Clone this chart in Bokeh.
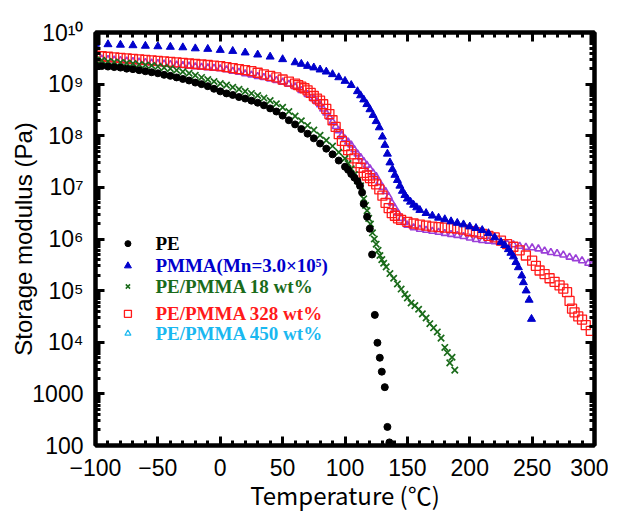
from bokeh.plotting import figure
from bokeh.models import (Range1d, FixedTicker, LinearAxis, LogAxis, CustomJSTickFormatter,
                          CustomLabelingPolicy)
from bokeh.embed import file_html
from bokeh.resources import INLINE
from bokeh.core.properties import value

# ---------------- data (temperature in deg C, log10 of storage modulus in Pa) ----------------
pe_T = [-100, -95, -90, -85, -80, -75, -70, -65, -60, -55,
        -50, -45, -40, -35, -30, -25, -20, -15, -10, -5,
        0, 5, 10, 15, 20, 25, 30, 35, 40, 45,
        50, 55, 60, 65, 70, 75, 80, 85, 90, 95,
        100, 102.5, 105, 107.5, 110, 112,
        113.7, 115, 117.7, 119.9, 121.7, 123.9, 126, 127.9, 129.5, 131.9, 134, 135.6]
pe_logE = [9.36, 9.35, 9.34, 9.33, 9.32, 9.30, 9.29, 9.27, 9.25, 9.23,
           9.21, 9.18, 9.16, 9.13, 9.10, 9.07, 9.03, 9.00, 8.96, 8.91,
           8.86, 8.82, 8.79, 8.75, 8.72, 8.68, 8.64, 8.59, 8.53, 8.47,
           8.39, 8.30, 8.22, 8.13, 8.04, 7.95, 7.85, 7.75, 7.64, 7.52,
           7.40, 7.34, 7.26, 7.19, 7.12, 7.03,
           6.90, 6.68, 6.43, 6.20, 5.70, 4.53, 3.99, 3.70, 3.43, 3.13, 2.36, 2.06]

pmma_T = [-100, -90, -80, -70, -60, -50, -40, -30, -20, -10, 0, 10, 20, 30, 40, 50, 60,
          65, 70, 75, 80, 85, 90, 95, 100, 105, 110,
          112.5, 115, 117.5, 120, 122.5, 125, 127.5,
          130, 132, 134, 136, 138, 140, 142, 144, 146, 148, 150,
          152.5, 155, 157.5, 160,
          165, 170, 175, 180, 185, 190, 195, 200, 205, 210, 215, 220, 225,
          228, 231, 233, 235, 237, 239,
          241.7, 243, 245.2, 247.6, 249.5]
pmma_logE = [9.78, 9.77, 9.76, 9.75, 9.74, 9.73, 9.72, 9.71, 9.69, 9.68, 9.66, 9.64, 9.61, 9.57, 9.53, 9.48, 9.42,
             9.39, 9.35, 9.32, 9.28, 9.24, 9.19, 9.13, 9.06, 8.98, 8.86,
             8.78, 8.70, 8.61, 8.51, 8.40, 8.28, 8.16,
             7.98, 7.82, 7.65, 7.48, 7.35, 7.24, 7.14, 7.03, 6.93, 6.85, 6.78,
             6.72, 6.66, 6.61, 6.56,
             6.50, 6.45, 6.41, 6.38, 6.34, 6.31, 6.28, 6.24, 6.21, 6.17, 6.11, 6.03, 5.94,
             5.88, 5.80, 5.73, 5.66, 5.55, 5.45,
             5.29, 5.16, 5.00, 4.82, 4.45]

b18_T = [-100, -95, -90, -85, -80, -75, -70, -65, -60, -55,
         -50, -45, -40, -35, -30, -25, -20, -15, -10, -5,
         0, 5, 10, 15, 20, 25, 30, 35, 40, 45,
         50, 55, 60, 65, 70, 75, 80, 85, 90, 95,
         100, 102.5, 105, 107.5, 110, 112.5,
         115, 116.5, 117.7, 119, 120.4, 122, 123.5, 125, 126.5, 128, 129.5, 131, 133,
         136, 139, 142, 145, 148, 150, 153, 156, 159, 162, 165, 168, 171, 174, 177, 180, 182, 184, 185.8, 188]
b18_logE = [9.47, 9.46, 9.44, 9.43, 9.42, 9.41, 9.40, 9.38, 9.37, 9.36,
            9.34, 9.32, 9.30, 9.27, 9.24, 9.21, 9.17, 9.13, 9.09, 9.05,
            9.01, 8.98, 8.94, 8.90, 8.86, 8.82, 8.78, 8.73, 8.68, 8.62,
            8.55, 8.47, 8.38, 8.29, 8.20, 8.11, 8.01, 7.91, 7.80, 7.68,
            7.56, 7.46, 7.36, 7.25, 7.13, 7.03,
            6.78, 6.65, 6.55, 6.40, 6.29, 6.12, 6.00, 5.90, 5.78, 5.68, 5.60, 5.53, 5.46,
            5.33, 5.24, 5.13, 5.03, 4.93, 4.86, 4.76, 4.71, 4.64, 4.55, 4.47, 4.36, 4.28, 4.20, 4.08, 3.90, 3.80, 3.60, 3.71, 3.46]

b328_T = [-100, -95, -90, -85, -80, -75, -70, -65, -60, -55,
          -50, -45, -40, -35, -30, -25, -20, -15, -10, -5,
          0, 5, 10, 15, 20, 25, 30, 35, 40, 45, 50, 55, 60,
          62.5, 65, 67.5, 70, 72.5, 75, 77.5, 80, 82.5, 85, 87.5, 90, 92.5, 95, 97.5, 100,
          102.5, 105, 107.5, 110, 112.5, 115, 117.5, 120, 122.5, 125, 127.5, 130, 132.5, 135,
          137.5, 140, 142.5, 145,
          150, 155, 160, 165, 170, 175, 180, 185, 190, 195, 200, 205, 210, 215, 220, 225,
          230, 235, 240, 245, 250,
          253, 256, 260, 264, 268, 272, 275, 278, 280, 282, 284, 287, 290, 293, 297]
b328_logE = [9.55, 9.54, 9.53, 9.52, 9.51, 9.50, 9.49, 9.48, 9.47, 9.46,
             9.45, 9.44, 9.43, 9.42, 9.41, 9.40, 9.39, 9.38, 9.37, 9.36,
             9.35, 9.33, 9.31, 9.29, 9.27, 9.25, 9.22, 9.19, 9.16, 9.13, 9.09, 9.05, 9.01,
             8.98, 8.95, 8.92, 8.88, 8.83, 8.77, 8.72, 8.68, 8.61, 8.52, 8.42, 8.30, 8.17, 8.03, 7.90, 7.80,
             7.72, 7.64, 7.56, 7.47, 7.38, 7.28, 7.23, 7.18, 7.12, 7.06, 6.96, 6.84, 6.70, 6.60,
             6.50, 6.45, 6.40, 6.37,
             6.33, 6.30, 6.28, 6.26, 6.24, 6.23, 6.22, 6.21, 6.20, 6.18, 6.15, 6.13, 6.10, 6.06, 6.03, 5.97,
             5.90, 5.85, 5.78, 5.68, 5.58,
             5.48, 5.39, 5.32, 5.24, 5.17, 5.10, 5.04, 4.97, 4.80, 4.65, 4.58, 4.50, 4.44, 4.33, 4.22]

b450_T = [-100, -95, -90, -85, -80, -75, -70, -65, -60, -55,
          -50, -45, -40, -35, -30, -25, -20, -15, -10, -5,
          0, 5, 10, 15, 20, 25, 30, 35, 40, 45, 50, 55, 60, 65, 70, 75,
          77.5, 80, 82.5, 85, 87.5, 90, 92.5, 95, 97.5, 100, 102.5, 105, 107.5, 110,
          112.5, 115, 117.5, 120, 122.5, 125, 127.5, 130, 132.5, 135, 137.5, 140, 142.5, 145, 147.5, 150,
          155, 160, 165, 170, 175, 180, 185, 190, 195, 200, 205, 210, 215, 220, 225,
          230, 235, 240, 245, 250, 255, 260, 265, 270, 275, 280, 285, 290, 295, 298]
b450_logE = [9.50, 9.49, 9.48, 9.47, 9.46, 9.45, 9.44, 9.43, 9.42, 9.41,
             9.40, 9.39, 9.38, 9.37, 9.36, 9.35, 9.34, 9.33, 9.32, 9.31,
             9.30, 9.28, 9.25, 9.23, 9.20, 9.18, 9.15, 9.13, 9.10, 9.07, 9.04, 9.00, 8.95, 8.88, 8.80, 8.72,
             8.66, 8.60, 8.52, 8.44, 8.36, 8.27, 8.18, 8.10, 8.01, 7.94, 7.88, 7.82, 7.73, 7.65,
             7.58, 7.50, 7.43, 7.36, 7.28, 7.21, 7.10, 7.00, 6.92, 6.82, 6.70, 6.60, 6.50, 6.40, 6.32, 6.27,
             6.22, 6.19, 6.17, 6.15, 6.13, 6.11, 6.09, 6.07, 6.05, 6.02, 5.99, 5.97, 5.96, 5.95, 5.93,
             5.91, 5.89, 5.86, 5.84, 5.83, 5.81, 5.77, 5.74, 5.72, 5.69, 5.65, 5.62, 5.58, 5.53, 5.51]

legend_labels = ["PE", "PMMA(Mn=3.0\u00d710\u2075)", "PE/PMMA 18 wt%", "PE/PMMA 328 wt%", "PE/PMMA 450 wt%"]

x_major_ticks = [-100, -50, 0, 50, 100, 150, 200, 250, 300]
y_major_ticks = [1e2, 1e3, 1e4, 1e5, 1e6, 1e7, 1e8, 1e9, 1e10]

# ---------------- styling ----------------
C_PE = "#000000"
C_PMMA = "#0000cc"
C_18 = "#1a6b1a"
C_328 = "#ff1a1a"
C_450 = "#9b3fd8"
C_450_LEG = "#1ab8f0"

TICK_FONT = "Liberation Sans"
LABEL_FONT = "Liberation Sans"

def to_E(vals):
    return [10 ** v for v in vals]

p = figure(width=608, height=515,
           x_range=Range1d(-100, 300), y_range=Range1d(100, 1e10),
           y_axis_type="log", output_backend="svg", toolbar_location=None,
           min_border_left=95, min_border_right=14, min_border_top=32, min_border_bottom=70)
p.grid.visible = False
p.outline_line_color = "black"
p.outline_line_width = 4
p.background_fill_color = "white"
p.border_fill_color = "white"

x_minor = list(range(-100, 301, 10))
y_minor = [m * 10 ** k for k in range(2, 10) for m in range(2, 10)]

x_fmt = CustomJSTickFormatter(code="return tick < 0 ? '\u2212' + Math.abs(tick) : String(tick);")
y_fmt = CustomJSTickFormatter(code="""
const sup = ['\u2070','\u00b9','\u00b2','\u00b3','\u2074','\u2075','\u2076','\u2077','\u2078','\u2079'];
const e = Math.round(Math.log10(tick));
if (e <= 3) { return String(Math.round(tick)); }
return '10' + String(e).split('').map(c => sup[parseInt(c)]).join('');
""")

def style_axis(ax):
    ax.axis_line_width = 4
    ax.axis_line_color = "black"
    ax.major_tick_in = 9
    ax.major_tick_out = 0
    ax.minor_tick_in = 5
    ax.minor_tick_out = 0
    ax.major_tick_line_width = 3
    ax.minor_tick_line_width = 3
    ax.major_tick_line_color = "black"
    ax.minor_tick_line_color = "black"

xb = p.xaxis[0]
yl = p.yaxis[0]
xb.ticker = FixedTicker(ticks=x_major_ticks, minor_ticks=x_minor)
yl.ticker = FixedTicker(ticks=y_major_ticks, minor_ticks=y_minor)
xb.formatter = x_fmt
yl.formatter = y_fmt
for ax in (xb, yl):
    style_axis(ax)
    ax.major_label_text_font = TICK_FONT
    ax.major_label_text_font_size = "23px"
    ax.major_label_text_color = "black"
    ax.axis_label_text_color = "black"
xb.major_label_standoff = 13
yl.major_label_standoff = 12
xb.axis_label = "Temperature (\u2103)"
xb.axis_label_text_font = "Noto Sans CJK JP"
xb.axis_label_text_font_size = "24px"
xb.axis_label_text_font_style = "normal"
xb.axis_label_standoff = -2
yl.axis_label = "Storage modulus (Pa)"
yl.axis_label_text_font = LABEL_FONT
yl.axis_label_text_font_size = "24px"
yl.axis_label_text_font_style = "normal"
yl.axis_label_standoff = -8

no_labels = CustomLabelingPolicy(code="return []")
xt = LinearAxis(ticker=FixedTicker(ticks=x_major_ticks, minor_ticks=x_minor))
yr = LogAxis(ticker=FixedTicker(ticks=y_major_ticks, minor_ticks=y_minor))
for ax in (xt, yr):
    style_axis(ax)
    ax.major_label_policy = no_labels
    ax.major_label_text_font_size = "1px"
    ax.major_label_standoff = 0
p.add_layout(xt, "above")
p.add_layout(yr, "right")

# ---------------- data marks ----------------
p.scatter(b450_T, to_E(b450_logE), marker="triangle", size=7, line_color=C_450,
          fill_color=None, line_width=1.6)
p.scatter(b328_T, to_E(b328_logE), marker="square", size=9, line_color=C_328,
          fill_color=None, line_width=1.3)
p.scatter(b18_T, to_E(b18_logE), marker="x", size=9, line_color=C_18, line_width=1.7)
p.scatter(pe_T, to_E(pe_logE), marker="circle", size=7, fill_color=C_PE, line_color=C_PE)
p.scatter(pmma_T, to_E(pmma_logE), marker="triangle", size=8, fill_color=C_PMMA, line_color=C_PMMA)

# ---------------- legend (drawn manually, per-entry colours) ----------------
LEG_MARK_X = -74
LEG_TEXT_X = -52
LEG_Y = [10 ** 5.91, 10 ** 5.48, 10 ** 5.08, 10 ** 4.55, 10 ** 4.17]
p.scatter([LEG_MARK_X], [LEG_Y[0]], marker="circle", size=6, fill_color=C_PE, line_color=C_PE)
p.scatter([LEG_MARK_X], [LEG_Y[1]], marker="triangle", size=7, fill_color=C_PMMA, line_color=C_PMMA)
p.scatter([LEG_MARK_X], [LEG_Y[2]], marker="x", size=6, line_color=C_18, line_width=1.5)
p.scatter([LEG_MARK_X], [LEG_Y[3]], marker="square", size=7, fill_color=None, line_color=C_328, line_width=1.3)
p.scatter([LEG_MARK_X], [LEG_Y[4]], marker="triangle", size=6, fill_color=None, line_color=C_450_LEG, line_width=1.3)
p.text(x=[LEG_TEXT_X] * 5, y=LEG_Y, text=legend_labels,
       text_color=[C_PE, C_PMMA, C_18, C_328, C_450_LEG],
       text_font=value("Liberation Serif"), text_font_style="bold", text_font_size="19px",
       text_baseline="middle", text_align="left")

with open("out.html", "w", encoding="utf-8") as f:
    f.write(file_html(p, INLINE))
